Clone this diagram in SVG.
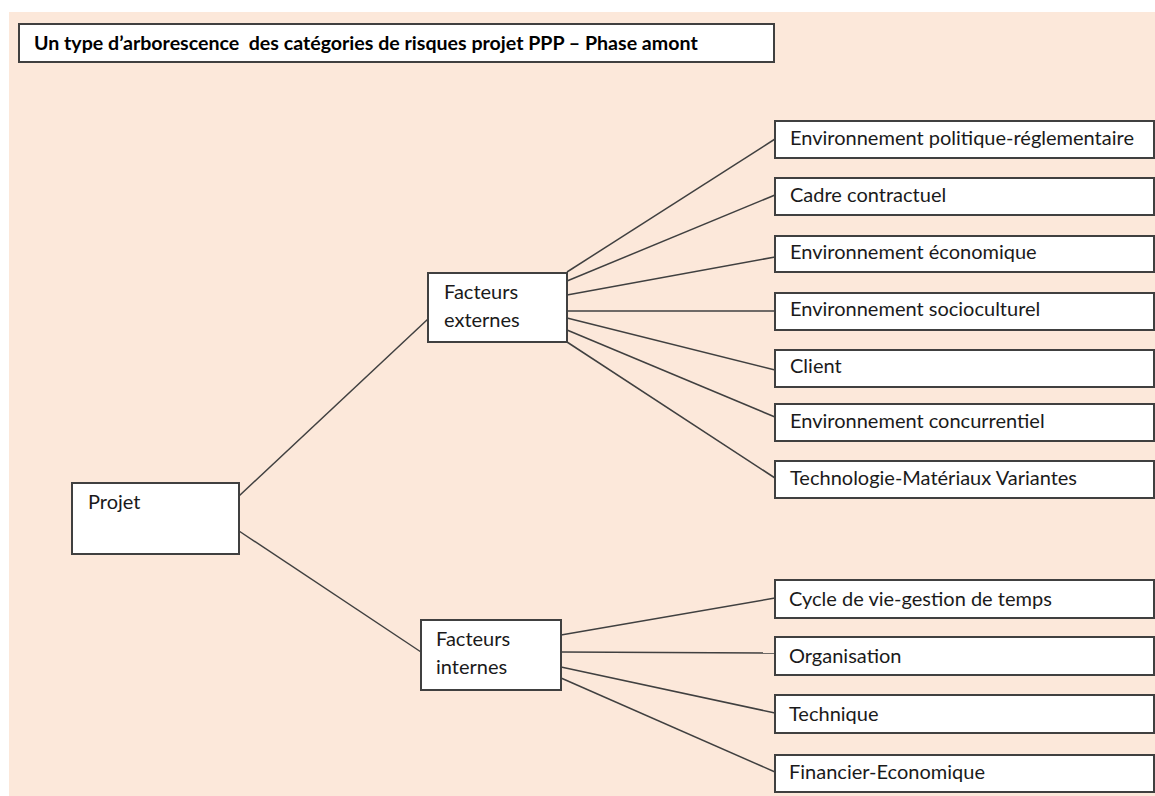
<svg xmlns="http://www.w3.org/2000/svg" width="1155" height="796" viewBox="0 0 1155 796">
<style>
.box{fill:#fff;stroke:#404040;stroke-width:2}
.t{font-family:Lato,"Liberation Sans",sans-serif;font-size:20px;fill:#1a1a1a}
.title{font-family:Lato,"Liberation Sans",sans-serif;font-size:19.6px;font-weight:bold;fill:#000;white-space:pre}
.c{stroke:#404040;stroke-width:1.5;fill:none}
</style>
<rect x="0" y="0" width="1155" height="796" fill="#fff"/>
<rect x="9" y="12" width="1146" height="784" fill="#FCE8DA"/>
<g id="title"><rect class="box" x="19" y="24" width="755" height="38"/><text class="title" x="34" y="50" xml:space="preserve">Un type d’arborescence  des catégories de risques projet PPP – Phase amont</text></g>
<g id="connectors">
<line class="c" x1="239" y1="496" x2="428" y2="319"/>
<line class="c" x1="239" y1="531" x2="421" y2="652"/>
<line class="c" x1="567" y1="272" x2="775" y2="139"/>
<line class="c" x1="567" y1="281" x2="775" y2="195"/>
<line class="c" x1="567" y1="295" x2="775" y2="257"/>
<line class="c" x1="567" y1="311" x2="775" y2="311"/>
<line class="c" x1="567" y1="318" x2="775" y2="370"/>
<line class="c" x1="567" y1="330" x2="775" y2="417"/>
<line class="c" x1="567" y1="342" x2="775" y2="478"/>
<line class="c" x1="561" y1="635" x2="775" y2="598"/>
<line class="c" x1="561" y1="652" x2="775" y2="653"/>
<line class="c" x1="561" y1="667" x2="775" y2="713"/>
<line class="c" x1="561" y1="678" x2="775" y2="772"/>
</g>
<g id="projet"><rect class="box" x="72" y="483" width="167" height="71"/><text class="t" x="88" y="509">Projet</text></g>
<g id="externes"><rect class="box" x="428" y="273" width="139" height="69"/><text class="t" x="444" y="299">Facteurs</text><text class="t" x="444" y="327">externes</text></g>
<g id="internes"><rect class="box" x="421" y="620" width="140" height="70"/><text class="t" x="436" y="646">Facteurs</text><text class="t" x="436" y="674">internes</text></g>
<g id="e1"><rect class="box" x="775" y="121" width="379" height="37"/><text class="t" x="790" y="145">Environnement politique-réglementaire</text></g>
<g id="e2"><rect class="box" x="775" y="178" width="379" height="37"/><text class="t" x="790" y="202">Cadre contractuel</text></g>
<g id="e3"><rect class="box" x="775" y="236" width="379" height="36"/><text class="t" x="790" y="259">Environnement économique</text></g>
<g id="e4"><rect class="box" x="775" y="293" width="379" height="37"/><text class="t" x="790" y="316">Environnement socioculturel</text></g>
<g id="e5"><rect class="box" x="775" y="350" width="379" height="37"/><text class="t" x="790" y="373">Client</text></g>
<g id="e6"><rect class="box" x="775" y="404" width="379" height="37"/><text class="t" x="790" y="428">Environnement concurrentiel</text></g>
<g id="e7"><rect class="box" x="775" y="461" width="379" height="37"/><text class="t" x="790" y="485">Technologie-Matériaux Variantes</text></g>
<g id="i1"><rect class="box" x="775" y="580" width="379" height="38"/><text class="t" x="789" y="606">Cycle de vie-gestion de temps</text></g>
<g id="i2"><rect class="box" x="775" y="637" width="379" height="38"/><text class="t" x="789" y="663">Organisation</text></g>
<g id="i3"><rect class="box" x="775" y="695" width="379" height="38"/><text class="t" x="789" y="721">Technique</text></g>
<g id="i4"><rect class="box" x="775" y="755" width="379" height="37"/><text class="t" x="789" y="779">Financier-Economique</text></g>
</svg>
